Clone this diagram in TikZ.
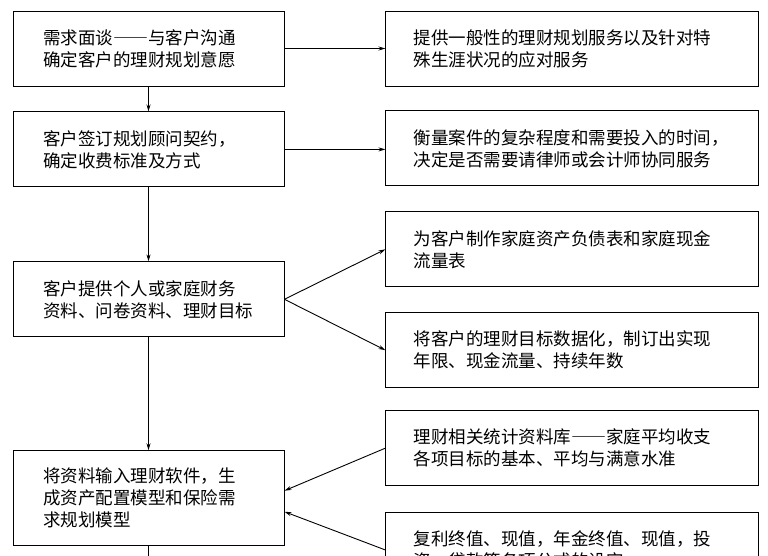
\documentclass[tikz,border=0pt]{standalone}
\usepackage{fontspec}
\newfontfamily\cjk{Noto Sans CJK SC}
\newcommand{\longdash}{{\addfontfeature{RawFeature=+fwid}——}}
\usetikzlibrary{arrows.meta,positioning}

\begin{document}
\begin{tikzpicture}[x=1pt,y=-1pt,>={Stealth[length=7pt,width=4pt]},line width=0.9pt,
	stage/.style={draw,rectangle,text width=211pt,inner xsep=30pt,minimum height=75pt,align=left,font=\cjk\fontsize{17.5}{22}\selectfont},
	detail/.style={stage,text width=317pt,inner xsep=28pt}]
		\useasboundingbox (0,0) rectangle (768,555);
		\node[stage] (p_1) at (148.5,48.5) {需求面谈\longdash 与客户沟通\\确定客户的理财规划意愿};
		\node[stage] (p_2) [below=25pt of p_1] {客户签订规划顾问契约，\\确定收费标准及方式};
		\node[stage] (p_3) [below=74pt of p_2] {客户提供个人或家庭财务\\资料、问卷资料、理财目标};
		\node[stage,minimum height=95pt] (p_4) [below=113pt of p_3] {将资料输入理财软件，生\\成资产配置模型和保险需\\求规划模型};
		\coordinate[below=25pt of p_4] (p_5);
		\node[detail] (d_1) [right=101pt of p_1] {提供一般性的理财规划服务以及针对特\\殊生涯状况的应对服务};
		\node[detail] (d_2) [below=24pt of d_1] {衡量案件的复杂程度和需要投入的时间，\\决定是否需要请律师或会计师协同服务};
		\node[detail] (d_3) [below=25pt of d_2] {为客户制作家庭资产负债表和家庭现金\\流量表};
		\node[detail] (d_4) [below=25pt of d_3] {将客户的理财目标数据化，制订出实现\\年限、现金流量、持续年数};
		\node[detail] (d_5) [below=22pt of d_4] {理财相关统计资料库\longdash 家庭平均收支\\各项目标的基本、平均与满意水准};
		\node[detail] (d_6) [below=26pt of d_5] {复利终值、现值，年金终值、现值，投\\资、贷款等各项公式的设定};
		\path[->]
		(p_1) edge (p_2)
		(p_2) edge (p_3)
		(p_3) edge (p_4)
		(p_4) edge (p_5)
		(p_1.east) edge (p_1.east -| d_1.west)
		(p_2.east) edge (p_2.east -| d_2.west)
		(p_3.east) edge (d_3.west)
		edge (d_4.west)
		(d_5.west) edge ([yshift=7.5pt]p_4.east)
		(d_6.west) edge ([yshift=-13.5pt]p_4.east);
	\end{tikzpicture}
\end{document}
